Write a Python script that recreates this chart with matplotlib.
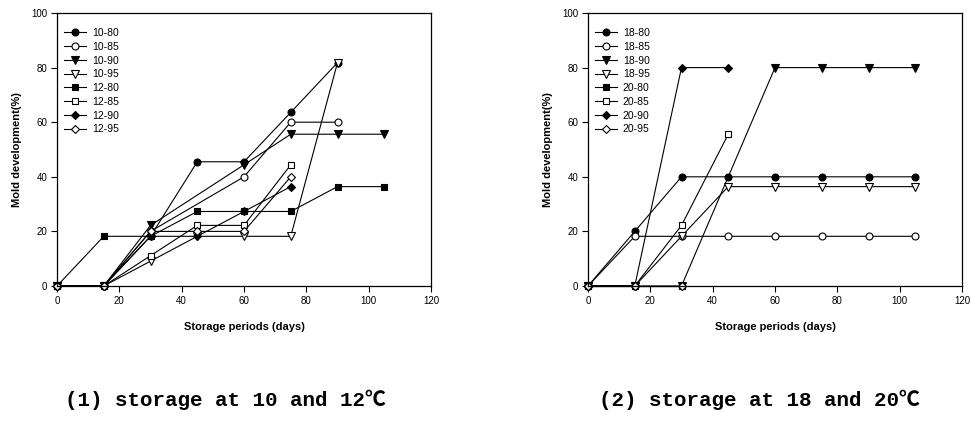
import numpy as np
import matplotlib.pyplot as plt
from matplotlib.ticker import MultipleLocator

plt.rcParams['font.family'] = ['Liberation Sans', 'DejaVu Sans']

# --- storage at 10 and 12 C ---
labels_low = ["10-80", "10-85", "10-90", "10-95", "12-80", "12-85", "12-90", "12-95"]
days_low = [
    [0, 15, 30, 45, 60, 75, 90],
    [0, 15, 30, 60, 75, 90],
    [0, 15, 30, 60, 75, 90, 105],
    [0, 15, 30, 45, 60, 75, 90],
    [0, 15, 30, 45, 60, 75, 90, 105],
    [0, 15, 30, 45, 60, 75],
    [0, 15, 30, 45, 60, 75],
    [0, 15, 30, 45, 60, 75],
]
mold_low = [
    [0, 0, 18.2, 45.5, 45.5, 63.6, 81.8],
    [0, 0, 20.0, 40.0, 60.0, 60.0],
    [0, 0, 22.2, 44.4, 55.6, 55.6, 55.6],
    [0, 0, 9.1, 18.2, 18.2, 18.2, 81.8],
    [0, 18.2, 18.2, 27.3, 27.3, 27.3, 36.4, 36.4],
    [0, 0, 11.1, 22.2, 22.2, 44.4],
    [0, 0, 18.2, 18.2, 27.3, 36.4],
    [0, 0, 20.0, 20.0, 20.0, 40.0],
]

# --- storage at 18 and 20 C ---
labels_high = ["18-80", "18-85", "18-90", "18-95", "20-80", "20-85", "20-90", "20-95"]
days_high = [
    [0, 15, 30, 45, 60, 75, 90, 105],
    [0, 15, 30, 45, 60, 75, 90, 105],
    [0, 15, 30, 60, 75, 90, 105],
    [0, 15, 30, 45, 60, 75, 90, 105],
    [0, 15, 30],
    [0, 15, 30, 45],
    [0, 15, 30, 45],
    [0, 15, 30],
]
mold_high = [
    [0, 20.0, 40.0, 40.0, 40.0, 40.0, 40.0, 40.0],
    [0, 18.2, 18.2, 18.2, 18.2, 18.2, 18.2, 18.2],
    [0, 0, 0, 80.0, 80.0, 80.0, 80.0],
    [0, 0, 18.2, 36.4, 36.4, 36.4, 36.4, 36.4],
    [0, 0, 0],
    [0, 0, 22.2, 55.6],
    [0, 0, 80.0, 80.0],
    [0, 0, 0],
]

# marker, filled, size -- same sequence for both panels
styles = [
    ("o", True, 5.0), ("o", False, 5.0), ("v", True, 5.4), ("v", False, 5.4),
    ("s", True, 4.2), ("s", False, 4.2), ("D", True, 4.3), ("D", False, 4.3),
]


def draw_panel(ax, labels, days, mold):
    for lab, x, y, (mk, filled, ms) in zip(labels, days, mold, styles):
        ax.plot(x, y, color="black", lw=0.8, marker=mk, ms=ms,
                mfc="black" if filled else "white", mec="black", mew=0.8,
                label=lab, clip_on=False)
    ax.set_xlim(0, 120)
    ax.set_ylim(0, 100)
    ax.xaxis.set_major_locator(MultipleLocator(20))
    ax.yaxis.set_major_locator(MultipleLocator(20))
    ax.tick_params(direction="out", length=4, width=0.8, labelsize=7, pad=3)
    for sp in ax.spines.values():
        sp.set_linewidth(0.9)
    ax.set_xlabel("Storage periods (days)", fontsize=8, fontweight="bold")
    ax.set_ylabel("Mold development(%)", fontsize=8, fontweight="bold")
    ax.xaxis.set_label_coords(0.5, -0.133)
    ax.yaxis.set_label_coords(-0.094, 0.5)
    ax.legend(loc="upper left", bbox_to_anchor=(0.018, 0.945), frameon=False,
              fontsize=7.5, handlelength=2.1, handletextpad=0.6,
              labelspacing=0.36, borderpad=0, borderaxespad=0)


fig = plt.figure(figsize=(9.71, 4.25), dpi=100)
ax1 = fig.add_axes([57 / 971, 139 / 425, 374 / 971, 273 / 425])
ax2 = fig.add_axes([588 / 971, 139 / 425, 374 / 971, 273 / 425])

draw_panel(ax1, labels_low, days_low, mold_low)
draw_panel(ax2, labels_high, days_high, mold_high)

cap_font = ["Liberation Mono", "Noto Sans CJK KR"]
fig.text(225 / 971, 25 / 425, "(1) storage at 10 and 12\u2103", ha="center",
         va="center", fontsize=15, fontweight="bold", family=cap_font)
fig.text(759 / 971, 25 / 425, "(2) storage at 18 and 20\u2103", ha="center",
         va="center", fontsize=15, fontweight="bold", family=cap_font)

fig.savefig("out.png", dpi=100)
